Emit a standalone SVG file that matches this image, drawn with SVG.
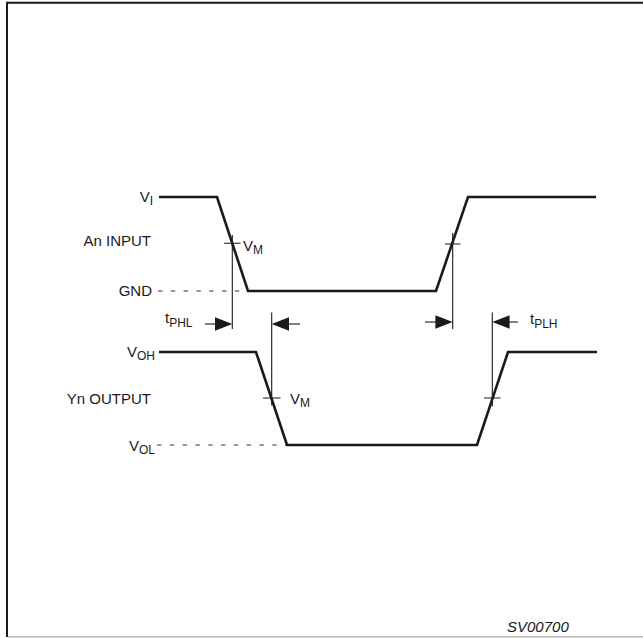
<svg xmlns="http://www.w3.org/2000/svg" width="643" height="638" viewBox="0 0 643 638">
<style>
text{font-family:"Liberation Sans",Arial,sans-serif;font-size:15px;fill:#1a1a1a}
.sub{font-size:12px}
.sig{fill:none;stroke:#1a1a1a;stroke-width:2.6;stroke-linejoin:miter}
.thin{fill:none;stroke:#1a1a1a;stroke-width:1.1}
.dash{fill:none;stroke:#333;stroke-width:1.1;stroke-dasharray:4.5 8.3}
.ah{fill:#1a1a1a}
</style>
<rect width="643" height="638" fill="#fff"/>
<g id="frame">
<path d="M7 637 V2.8 H643" fill="none" stroke="#1a1a1a" stroke-width="2"/>
<path d="M8 636.8 H643" fill="none" stroke="#aaa" stroke-width="1.2"/>
</g>
<g id="input-waveform">
<path class="sig" d="M159 197 H217 L248 291 H436 L468 197 H596"/>
<path class="dash" d="M158 291 H247"/>
</g>
<g id="output-waveform">
<path class="sig" d="M159 352 H256 L287 445 H477 L508 352 H597"/>
<path class="dash" d="M157 445 H286"/>
</g>
<g id="connectors">
<path class="thin" d="M232.3 235 V329 M224 243.3 H240.5"/>
<path class="thin" d="M452.7 233 V329 M445 244 H460.5"/>
<path class="thin" d="M271.7 312.5 V405.5 M263 398 H280.5"/>
<path class="thin" d="M492.3 312.5 V406.5 M484 398 H500.5"/>
<path class="thin" d="M205 324 H216"/>
<polygon class="ah" points="232.3,324 215,317.3 215,330.7"/>
<path class="thin" d="M289 324 H300"/>
<polygon class="ah" points="271.7,324 289,317.3 289,330.7"/>
<path class="thin" d="M425 322 H436"/>
<polygon class="ah" points="452.7,322 435.4,315.3 435.4,328.7"/>
<path class="thin" d="M509 322 H518"/>
<polygon class="ah" points="492.3,322 509.6,315.3 509.6,328.7"/>
</g>
<g id="labels">
<text x="153" y="202" text-anchor="end">V<tspan class="sub" dy="3">I</tspan></text>
<text x="151" y="246" text-anchor="end">An INPUT</text>
<text x="152" y="295.5" text-anchor="end">GND</text>
<text x="243" y="251">V<tspan class="sub" dy="3">M</tspan></text>
<text x="165" y="323">t<tspan class="sub" dy="3.5">PHL</tspan></text>
<text x="530" y="324">t<tspan class="sub" dy="3.5">PLH</tspan></text>
<text x="155" y="357" text-anchor="end">V<tspan class="sub" dy="3">OH</tspan></text>
<text x="151" y="404" text-anchor="end">Yn OUTPUT</text>
<text x="290" y="404">V<tspan class="sub" dy="3">M</tspan></text>
<text x="155" y="451" text-anchor="end">V<tspan class="sub" dy="3">OL</tspan></text>
<text x="507" y="632" font-style="italic" font-size="15.7">SV00700</text>
</g>
</svg>
